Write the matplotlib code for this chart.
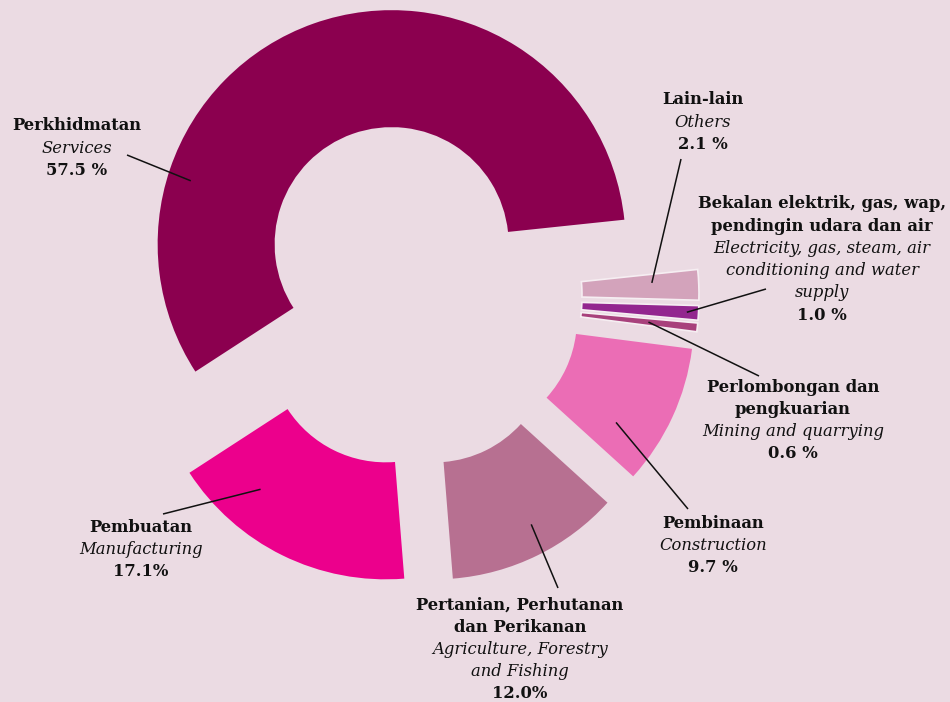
import numpy as np
import matplotlib
matplotlib.use("Agg")
import matplotlib.pyplot as plt

# ---- data ----
categories = ["Services", "Manufacturing", "Agriculture, Forestry and Fishing",
              "Construction", "Mining and quarrying",
              "Electricity, gas, steam, air conditioning and water supply", "Others"]
shares = [57.5, 17.1, 12.0, 9.7, 0.6, 1.0, 2.1]
colors = ["#8B004F", "#EC008C", "#B77091", "#EB6DB5", "#A8417C", "#93268F", "#D3A3BB"]

label_malay = [["Perkhidmatan"], ["Pembuatan"], ["Pertanian, Perhutanan", "dan Perikanan"],
               ["Pembinaan"], ["Perlombongan dan", "pengkuarian"],
               ["Bekalan elektrik, gas, wap,", "pendingin udara dan air"], ["Lain-lain"]]
label_english = [["Services"], ["Manufacturing"], ["Agriculture, Forestry", "and Fishing"],
                 ["Construction"], ["Mining and quarrying"],
                 ["Electricity, gas, steam, air", "conditioning and water", "supply"], ["Others"]]
label_pct = ["57.5 %", "17.1%", "12.0%", "9.7 %", "0.6 %", "1.0 %", "2.1 %"]

# ---- layout (pixel space, y measured from top) ----
W, H = 950, 702
BG = "#EBDBE3"
cx, cy_top, R = 410, 296, 234
explode_px = 55
# text block: centre x, first-line y (from top)
text_pos = [(77, 126), (141, 527), (520, 605), (713, 523), (793, 387), (822, 204), (703, 100)]
# leader: (fraction along wedge angle, radius fraction), text-end point (x, y from top)
anchors = [(0.756, 0.90), (0.26, 0.815), (0.553, 0.87), (0.25, 0.80), (0.5, 0.79), (0.5, 0.95), (0.65, 0.80)]
leader_ends = [(127, 155), (163, 514), (558, 588), (688, 509), (759, 376), (766, 289), (681, 159)]
LS = 22.2

fig = plt.figure(figsize=(W / 100, H / 100), dpi=100, facecolor=BG)
ax = fig.add_axes([0, 0, 1, 1])
ax.set_facecolor(BG)

wedges, _ = ax.pie(shares, colors=colors, startangle=6, counterclock=True,
                   explode=[explode_px] * len(shares), radius=R, center=(cx, H - cy_top),
                   wedgeprops=dict(width=R * 0.5, linewidth=0))
for w, s in zip(wedges, shares):
    if s < 5:
        w.set_edgecolor("#F6EEF2")
        w.set_linewidth(1.2)

ax.set_xlim(0, W)
ax.set_ylim(0, H)
ax.set_aspect("equal")
ax.axis("off")

serif = ["DejaVu Serif"]
fs = 11.8
for i, w in enumerate(wedges):
    # leader line
    f, rf = anchors[i]
    th = np.deg2rad(w.theta1 + f * (w.theta2 - w.theta1))
    ax_x = w.center[0] + w.r * rf * np.cos(th)
    ax_y = w.center[1] + w.r * rf * np.sin(th)
    ex, ey = leader_ends[i]
    ax.plot([ex, ax_x], [H - ey, ax_y], color="#111111", lw=1.1, solid_capstyle="butt")
    # text block
    tx, ty = text_pos[i]
    lines = ([(t, "bold", "normal") for t in label_malay[i]] +
             [(t, "normal", "italic") for t in label_english[i]] +
             [(label_pct[i], "bold", "normal")])
    for k, (t, wt, st) in enumerate(lines):
        ax.text(tx, H - (ty + k * LS), t, ha="center", va="center", fontsize=fs,
                fontweight=wt, fontstyle=st, family=serif, color="#111111")

fig.savefig("out.png", dpi=100, facecolor=BG)
